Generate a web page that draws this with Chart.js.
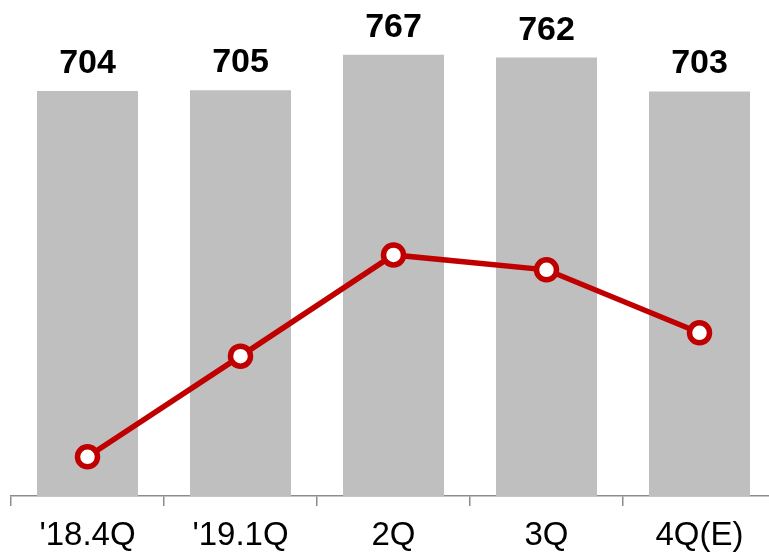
<!DOCTYPE html>
<html>
<head>
<meta charset="utf-8">
<script src="https://cdn.jsdelivr.net/npm/chart.js@4"></script>
<style>
  html, body { margin: 0; padding: 0; background: #fff; overflow: hidden; }
</style>
</head>
<body>
<canvas id="myChart" width="776" height="556"></canvas>
<script>
var categories = ["'18.4Q", "'19.1Q", "2Q", "3Q", "4Q(E)"];
var barValues = [704, 705, 767, 762, 703];
var lineValues = [7.9, 28.2, 48.6, 45.6, 32.9];

var fontFamily = "'Liberation Sans', Arial, sans-serif";

// draw the bold numbers above the bars
var barLabels = {
	id: 'barLabels',
	afterDatasetsDraw: function(chart) {
		var ctx = chart.ctx;
		var meta = chart.getDatasetMeta(1);
		ctx.save();
		ctx.font = 'bold 34px ' + fontFamily;
		ctx.fillStyle = '#000';
		ctx.textAlign = 'center';
		ctx.textBaseline = 'alphabetic';
		meta.data.forEach(function(bar, i) {
			ctx.fillText(barValues[i], bar.x, bar.y - 18);
		});
		ctx.restore();
	}
};

var ctx = document.getElementById("myChart").getContext("2d");
var myChart = new Chart(ctx, {
	type: 'bar',
	data: {
		labels: categories,
		datasets: [
			{
				type: 'line',
				data: lineValues,
				yAxisID: 'y1',
				borderColor: '#c00000',
				borderWidth: 5.5,
				pointRadius: 10,
				pointBorderWidth: 5.5,
				pointBackgroundColor: '#fff',
				pointBorderColor: '#c00000',
				tension: 0,
				clip: false,
				order: 0
			},
			{
				type: 'bar',
				data: barValues,
				yAxisID: 'y',
				backgroundColor: '#bfbfbf',
				barPercentage: 0.66,
				categoryPercentage: 1,
				order: 1
			}
		]
	},
	options: {
		responsive: false,
		animation: false,
		layout: { autoPadding: false, padding: { left: 11, right: 0, top: 0, bottom: 0 } },
		plugins: {
			legend: { display: false },
			tooltip: { enabled: false }
		},
		scales: {
			x: {
				grid: {
					offset: true,
					drawOnChartArea: false,
					drawTicks: true,
					tickLength: 10,
					color: '#8c8c8c',
					lineWidth: 1.5
				},
				border: { color: '#8c8c8c', width: 1.5 },
				ticks: {
					color: '#000',
					padding: 10,
					maxRotation: 0,
					font: { family: fontFamily, size: 33 }
				},
				afterFit: function(scale) { scale.height = 60; }
			},
			y: {
				display: false,
				min: 0,
				max: 862
			},
			y1: {
				display: false,
				min: 0,
				max: 100
			}
		}
	},
	plugins: [barLabels]
});
</script>
</body>
</html>
